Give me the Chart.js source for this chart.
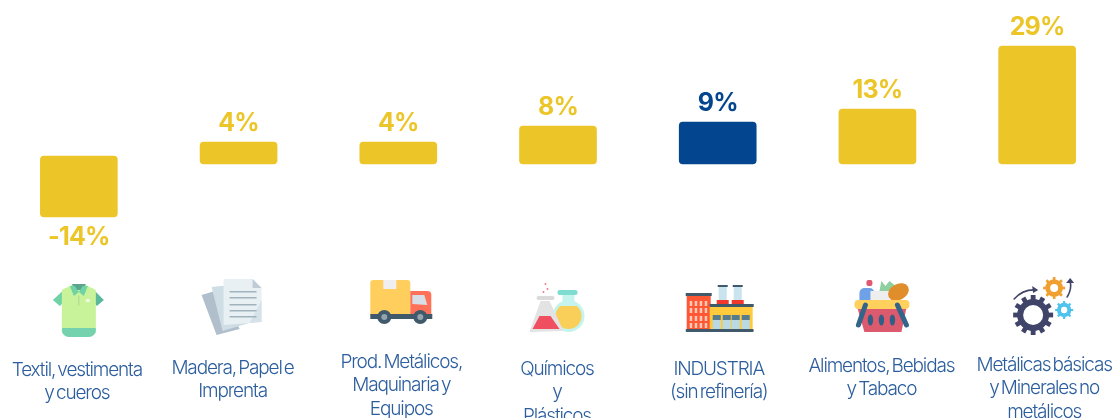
<!DOCTYPE html>
<html lang="es">
<head>
<meta charset="utf-8">
<style>
html,body{margin:0;padding:0;background:#fff;width:1114px;height:418px;overflow:hidden}
#wrap{position:absolute;left:-1px;top:0;width:1118px;height:418px}
canvas{display:block}
</style>
<script src="https://cdn.jsdelivr.net/npm/chart.js@4"></script>
</head>
<body>
<div id="wrap"><canvas id="c" width="1118" height="418"></canvas></div>
<script>
const categories = [
  ["Textil, vestimenta","y cueros"],
  ["Madera, Papel e","Imprenta"],
  ["Prod. Metálicos,","Maquinaria y","Equipos"],
  ["Químicos","y","Plásticos"],
  ["INDUSTRIA","(sin refinería)"],
  ["Alimentos, Bebidas","y Tabaco"],
  ["Metálicas básicas","y Minerales no","metálicos"]
];
const values = [-14, 4, 4, 8, 9, 13, 29];
const valueLabels = ["-14%","4%","4%","8%","9%","13%","29%"];
const barLow  = [-14.25, -1, -1, -1, -1, -1, -1];
const barHigh = [1, 4.5, 4.5, 8.5, 9.5, 12.75, 28.5];
const highlighted = "INDUSTRIA";

const YELLOW = "#ECC629", BLUE = "#03468F", TEXT = "#2C5E9E";
const barColors = categories.map(c => c[0] === highlighted ? BLUE : YELLOW);
const labelShift = [-2,-6,3,-1,1,4,7];
const labelTops  = [370,368,362,369,369,366,365];
const iconOrigins = [79,239,399,558.5,718,878,1038];

function rr(ctx,x,y,w,h,r,col){ctx.fillStyle=col;ctx.beginPath();ctx.roundRect(x,y,w,h,r);ctx.fill();}
function poly(ctx,pts,col){ctx.fillStyle=col;ctx.beginPath();pts.forEach((p,i)=>i?ctx.lineTo(p[0],p[1]):ctx.moveTo(p[0],p[1]));ctx.closePath();ctx.fill();}
function circ(ctx,x,y,r,col){ctx.fillStyle=col;ctx.beginPath();ctx.arc(x,y,r,0,Math.PI*2);ctx.fill();}
function line(ctx,a,b,w,col){ctx.strokeStyle=col;ctx.lineWidth=w;ctx.lineCap="round";ctx.beginPath();ctx.moveTo(a[0],a[1]);ctx.lineTo(b[0],b[1]);ctx.stroke();}
function gear(ctx,x,y,R,hole,teeth,col){
  ctx.strokeStyle=col;ctx.lineCap="butt";ctx.lineWidth=R*0.24;
  for(let i=0;i<teeth;i++){const a=i*2*Math.PI/teeth;ctx.beginPath();ctx.moveTo(x+Math.cos(a)*R*0.7,y+Math.sin(a)*R*0.7);ctx.lineTo(x+Math.cos(a)*R,y+Math.sin(a)*R);ctx.stroke();}
  circ(ctx,x,y,R*0.8,col);circ(ctx,x,y,hole,"#fff");
}
const icons = [
  function(ctx){ // shirt
    poly(ctx,[[66,288],[53,300],[60,306],[66,300]],"#6FD3A5");
    poly(ctx,[[92,288],[104,300],[97,306],[92,300]],"#5BB89A");
    poly(ctx,[[72,285],[62,290],[62,333],[96,333],[96,290],[86,285]],"#C9F39A");
    rr(ctx,62,328,34,9,[1,1,7,7],"#74D2AE");
    poly(ctx,[[72,284],[86,284],[83,290],[75,290]],"#5BA58F");
    poly(ctx,[[70,286],[75,286],[79,292],[74,296]],"#6FD3A5");
    poly(ctx,[[88,286],[83,286],[79,292],[84,296]],"#6FD3A5");
    rr(ctx,86,299,4,3,1,"#EFFBE0");
    line(ctx,[79,296],[79,305],0.7,"#9CCB85");
  },
  function(ctx){ // papers
    poly(ctx,[[202,295],[222,289],[240,329],[217,335]],"#B0BFCB");
    poly(ctx,[[212,287],[240,284],[253,322],[223,331]],"#CFDDE5");
    poly(ctx,[[224,279],[253,279],[262,288],[262,322],[224,325]],"#E9F0F4");
    poly(ctx,[[253,279],[262,288],[253,288]],"#BFCBD5");
    poly(ctx,[[250,323],[262,322],[262,300]],"#D5E2EA");
    [291,297,304,310,316].forEach(y=>rr(ctx,230,y,27,1.5,0,"#A0B2BC"));
  },
  function(ctx){ // truck
    rr(ctx,371,280,40,35,[3,3,0,0],"#FFCE5C");
    rr(ctx,384,280,13,9,0,"#EFEFEF");
    rr(ctx,411,291,21,24,[0,4,0,0],"#FF7058");
    poly(ctx,[[413,295],[425,295],[428,305],[413,304]],"#D7DEE6");
    rr(ctx,371,314,62,5,0,"#40596B");
    [385,421].forEach(x=>{circ(ctx,x,317,7,"#40596B");circ(ctx,x,317,3,"#94A4AE");});
  },
  function(ctx){ // flasks
    circ(ctx,569,316,16,"#C5F4EE");
    rr(ctx,563,293,12,12,0,"#C5F4EE");
    rr(ctx,558,290,20,5,2,"#7FDCD0");
    ctx.save();ctx.beginPath();ctx.rect(550,306,40,30);ctx.clip();circ(ctx,569,316,13,"#F9CF5A");ctx.restore();
    poly(ctx,[[541,301],[550,301],[564,331],[530,332]],"#E3E3E3");
    poly(ctx,[[540,316],[551,316],[560,329],[533,329]],"#EF4F5F");
    rr(ctx,537,296,18,4,2,"#DADADA");
    circ(ctx,546,284,1,"#F07A88");circ(ctx,548,289,1,"#F07A88");circ(ctx,544,292,1,"#F07A88");
  },
  function(ctx){ // factory
    rr(ctx,687,296,24,34,0,"#FF5733");
    rr(ctx,686,293,26,3,0,"#40596B");
    [691,696,701,706].forEach(x=>[301,308,316,323].forEach(y=>rr(ctx,x-1,y,2.5,5,0,"#FFC9B8")));
    rr(ctx,719,285,8,15,0,"#C9E3EF");rr(ctx,734,285,8,15,0,"#C9E3EF");
    rr(ctx,718,285,10,2,0,"#40596B");rr(ctx,733,285,10,2,0,"#40596B");
    rr(ctx,717,300,12,4,0,"#F0392B");rr(ctx,732,300,12,4,0,"#F0392B");
    rr(ctx,710,306,43,24,0,"#FFCB3D");
    rr(ctx,710,304,44,3,0,"#40596B");
    [713,723,732,742].forEach(x=>{rr(ctx,x,315,8,5,0,"#557C90");rr(ctx,x,320,8,9,0,"#B9D9E4");});
    rr(ctx,686,329,68,3,1,"#40596B");
  },
  function(ctx){ // basket
    rr(ctx,860,288,15,14,[5,5,0,0],"#6FA1E8");
    rr(ctx,867,280,6,6,2,"#E05870");
    poly(ctx,[[880,291],[882,281],[886,286],[890,281],[895,285],[892,292]],"#8FD0A0");
    rr(ctx,871,291,19,10,0,"#EEEEEE");
    ctx.fillStyle="#E08E2C";ctx.beginPath();ctx.ellipse(899,292,11,8,-0.5,0,Math.PI*2);ctx.fill();
    poly(ctx,[[858,308],[907,308],[902,332],[865,332]],"#DC5A6E");
    rr(ctx,855,300,55,9,4,"#FFD05C");
    [871,882,893].forEach(x=>{ctx.fillStyle="#2F5F85";ctx.beginPath();ctx.ellipse(x,320,2.7,5.5,0,0,Math.PI*2);ctx.fill();});
    line(ctx,[866,305],[859,325],5,"#33658A");
    line(ctx,[898,305],[907,325],5,"#33658A");
  },
  function(ctx){ // gears
    gear(ctx,1034,315,20,10,12,"#3F4468");
    gear(ctx,1055,288,11,4,8,"#F0A030");
    gear(ctx,1065,310,9,3.2,8,"#4FC3EE");
    ctx.strokeStyle="#3F4468";ctx.lineWidth=1.6;ctx.lineCap="round";
    ctx.beginPath();ctx.moveTo(1015,299);ctx.quadraticCurveTo(1024,289,1037,290);ctx.stroke();
    poly(ctx,[[1039,290],[1033,286],[1034,293]],"#3F4468");
    ctx.beginPath();ctx.moveTo(1068,297);ctx.quadraticCurveTo(1073,289,1071,281);ctx.stroke();
    poly(ctx,[[1071,278],[1067,283],[1075,283]],"#3F4468");
  }
];

const decorate = {
  id:"decorate",
  afterDatasetsDraw(chart){
    const ctx = chart.ctx, meta = chart.getDatasetMeta(0), xs = chart.scales.x;
    ctx.save();
    ctx.textAlign="center";ctx.textBaseline="middle";
    meta.data.forEach((bar,i)=>{
      const neg = values[i] < 0;
      const top = Math.min(bar.y,bar.base), bottom = Math.max(bar.y,bar.base);
      ctx.font='700 25px "Inter"';
      ctx.letterSpacing="-0.8px";
      ctx.wordSpacing="0px";
      ctx.fillStyle=barColors[i];
      ctx.fillText(valueLabels[i], bar.x, neg ? bottom + 20 : top - 19);
    });
    categories.forEach((lines,i)=>{
      const cx = xs.getPixelForValue(i);
      ctx.save();
      ctx.translate(cx - iconOrigins[i], 0);
      icons[i](ctx);
      ctx.restore();
      ctx.font='300 19px "Inter"';
      ctx.letterSpacing="-1.15px";
      ctx.wordSpacing="-2px";
      ctx.fillStyle=TEXT;
      lines.forEach((t,k)=>ctx.fillText(t, cx+labelShift[i], labelTops[i]+k*23.5));
    });
    ctx.restore();
  }
};

new Chart(document.getElementById("c"),{
  type:"bar",
  data:{labels:categories.map(c=>c.join(" ")),datasets:[{
    data:barLow.map((l,i)=>[l,barHigh[i]]),
    backgroundColor:barColors,
    borderRadius:4,borderSkipped:false,
    barThickness:77
  }]},
  options:{
    responsive:false,animation:false,devicePixelRatio:1,
    layout:{padding:0},
    plugins:{legend:{display:false},tooltip:{enabled:false}},
    scales:{
      x:{display:false,offset:true,grid:{display:false}},
      y:{display:false,min:-64.5,max:40,grid:{display:false}}
    }
  },
  plugins:[decorate]
});
</script>
</body>
</html>
